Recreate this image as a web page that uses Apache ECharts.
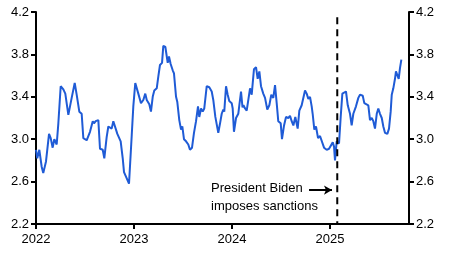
<!DOCTYPE html>
<html>
<head>
<meta charset="utf-8">
<script src="https://cdn.jsdelivr.net/npm/echarts@6/dist/echarts.min.js"></script>
<style>
  html, body { margin: 0; padding: 0; background: #fff; }
  #chart { width: 449px; height: 258px; }
</style>
</head>
<body>
<div id="chart"></div>
<script>
// time as decimal years
const years = [
  2022.000, 2022.013, 2022.034, 2022.058, 2022.074, 2022.102, 2022.115, 2022.133, 2022.150, 2022.170,
  2022.187, 2022.204, 2022.211, 2022.228, 2022.252, 2022.279, 2022.299, 2022.330, 2022.347, 2022.364,
  2022.381, 2022.395, 2022.415, 2022.442, 2022.466, 2022.483, 2022.517, 2022.534, 2022.551, 2022.579,
  2022.592, 2022.609, 2022.636, 2022.653, 2022.681, 2022.697, 2022.721, 2022.738, 2022.755, 2022.772,
  2022.789, 2022.806, 2022.830, 2022.864, 2022.885, 2022.898, 2022.926, 2022.949, 2022.977, 2022.993,
  2023.013, 2023.044, 2023.071, 2023.095, 2023.115, 2023.130, 2023.156, 2023.173, 2023.191, 2023.207,
  2023.232, 2023.248, 2023.265, 2023.286, 2023.299, 2023.320, 2023.344, 2023.357, 2023.374, 2023.395,
  2023.408, 2023.429, 2023.442, 2023.462, 2023.480, 2023.493, 2023.510, 2023.531, 2023.554, 2023.571,
  2023.592, 2023.612, 2023.633, 2023.653, 2023.666, 2023.684, 2023.701, 2023.717, 2023.742, 2023.768,
  2023.793, 2023.809, 2023.830, 2023.860, 2023.878, 2023.895, 2023.911, 2023.921, 2023.939, 2023.956,
  2023.972, 2023.997, 2024.007, 2024.020, 2024.041, 2024.064, 2024.082, 2024.092, 2024.107, 2024.117,
  2024.133, 2024.150, 2024.166, 2024.184, 2024.201, 2024.224, 2024.245, 2024.262, 2024.279, 2024.296,
  2024.319, 2024.337, 2024.360, 2024.381, 2024.401, 2024.421, 2024.439, 2024.456, 2024.472, 2024.497,
  2024.510, 2024.531, 2024.551, 2024.574, 2024.592, 2024.609, 2024.626, 2024.646, 2024.670, 2024.687,
  2024.711, 2024.728, 2024.745, 2024.762, 2024.779, 2024.796, 2024.813, 2024.823, 2024.840, 2024.857,
  2024.878, 2024.898, 2024.918, 2024.939, 2024.966, 2024.990, 2025.007, 2025.028, 2025.041, 2025.051,
  2025.068, 2025.092, 2025.109, 2025.126, 2025.146, 2025.163, 2025.181, 2025.204, 2025.221, 2025.238,
  2025.265, 2025.289, 2025.306, 2025.334, 2025.350, 2025.367, 2025.391, 2025.408, 2025.426, 2025.442,
  2025.459, 2025.477, 2025.493, 2025.510, 2025.528, 2025.544, 2025.561, 2025.585, 2025.602, 2025.619,
  2025.630, 2025.646, 2025.663, 2025.673, 2025.691, 2025.701, 2025.714, 2025.728
];
const values = [
  2.90, 2.82, 2.90, 2.74, 2.68, 2.79, 2.80, 3.05, 3.01, 2.92,
  3.00, 3.00, 2.95, 3.15, 3.50, 3.47, 3.43, 3.23, 3.31, 3.39,
  3.40, 3.53, 3.42, 3.26, 3.24, 3.01, 2.99, 3.00, 3.07, 3.17,
  3.15, 3.17, 3.18, 2.91, 2.90, 2.82, 3.02, 3.12, 3.13, 3.10,
  3.17, 3.17, 3.05, 2.98, 2.82, 2.69, 2.63, 2.58, 3.04, 3.31,
  3.53, 3.43, 3.34, 3.37, 3.43, 3.37, 3.33, 3.26, 3.40, 3.46,
  3.48, 3.59, 3.70, 3.72, 3.88, 3.87, 3.72, 3.78, 3.71, 3.65,
  3.62, 3.40, 3.35, 3.18, 3.09, 3.12, 3.00, 2.98, 2.95, 2.90,
  2.92, 3.06, 3.17, 3.31, 3.21, 3.29, 3.26, 3.29, 3.50, 3.49,
  3.45, 3.37, 3.21, 3.06, 3.15, 3.24, 3.28, 3.26, 3.50, 3.42,
  3.36, 3.34, 3.29, 3.07, 3.20, 3.24, 3.24, 3.45, 3.30, 3.32,
  3.29, 3.27, 3.28, 3.48, 3.42, 3.66, 3.68, 3.57, 3.64, 3.50,
  3.43, 3.39, 3.28, 3.32, 3.42, 3.39, 3.51, 3.34, 3.17, 3.15,
  3.00, 3.13, 3.21, 3.20, 3.22, 3.17, 3.13, 3.21, 3.10, 3.27,
  3.32, 3.33, 3.46, 3.43, 3.38, 3.40, 3.31, 3.24, 3.09, 3.12,
  3.01, 3.03, 3.02, 2.92, 2.90, 2.91, 2.90, 2.97, 2.93, 2.80,
  2.98, 2.96, 3.21, 3.43, 3.43, 3.45, 3.32, 3.24, 3.13, 3.24,
  3.31, 3.39, 3.42, 3.41, 3.34, 3.35, 3.32, 3.18, 3.20, 3.17,
  3.10, 3.24, 3.29, 3.24, 3.20, 3.12, 3.06, 3.05, 3.10, 3.26,
  3.42, 3.48, 3.57, 3.64, 3.65, 3.57, 3.67, 3.75
];
const yearTicks = [2022, 2023, 2024, 2025];
const sanctionDate = 2025.074;
const arrowFrom = [2024.786, 2.52];
const arrowTo = [2025.020, 2.52];
const noteLines = ['President Biden', 'imposes sanctions'];

const font = 'Liberation Sans, Arial, sans-serif';
const chart = echarts.init(document.getElementById('chart'));

const yAxisBase = {
  type: 'value',
  min: 2.2,
  max: 4.2,
  interval: 0.4,
  splitLine: { show: false },
  axisLine: { show: true, lineStyle: { color: '#000', width: 2 } },
  axisTick: { show: true, length: 5, lineStyle: { color: '#000', width: 2 } },
  axisLabel: { color: '#000', fontSize: 13, fontFamily: font, margin: 7, formatter: v => v.toFixed(1) }
};

chart.setOption({
  backgroundColor: '#fff',
  animation: false,
  grid: { left: 36, right: 40, top: 12, bottom: 34 },
  xAxis: {
    type: 'value',
    min: 2022,
    max: 2025.806,
    interval: 1,
    splitLine: { show: false },
    axisLine: { lineStyle: { color: '#000', width: 2 } },
    axisTick: { show: true, length: 5, lineStyle: { color: '#000', width: 2 } },
    axisLabel: {
      color: '#000', fontSize: 13, fontFamily: font, margin: 9,
      showMaxLabel: false,
      formatter: v => (yearTicks.indexOf(v) >= 0 ? String(v) : '')
    }
  },
  yAxis: [
    Object.assign({}, yAxisBase, { position: 'left' }),
    Object.assign({}, yAxisBase, { position: 'right' })
  ],
  series: [
    {
      type: 'line',
      data: years.map((y, i) => [y, values[i]]),
      showSymbol: false,
      lineStyle: { color: '#1f5bd6', width: 2 },
      z: 3
    },
    {
      type: 'line',
      data: [[sanctionDate, 4.15], [sanctionDate, 2.2]],
      showSymbol: false,
      lineStyle: { color: '#000', width: 2, type: [7, 5] },
      z: 4
    },
    {
      type: 'line',
      data: [],
      markLine: {
        silent: true,
        symbol: ['none', 'arrow'],
        symbolSize: [7, 8],
        label: { show: false },
        lineStyle: { color: '#000', width: 2, type: 'solid' },
        data: [[{ coord: arrowFrom }, { coord: arrowTo }]]
      }
    }
  ],
  graphic: [
    { type: 'text', left: 211, top: 182, style: { text: noteLines[0], font: '13px ' + font, fill: '#000' } },
    { type: 'text', left: 211, top: 200, style: { text: noteLines[1], font: '13px ' + font, fill: '#000' } }
  ]
});
</script>
</body>
</html>
